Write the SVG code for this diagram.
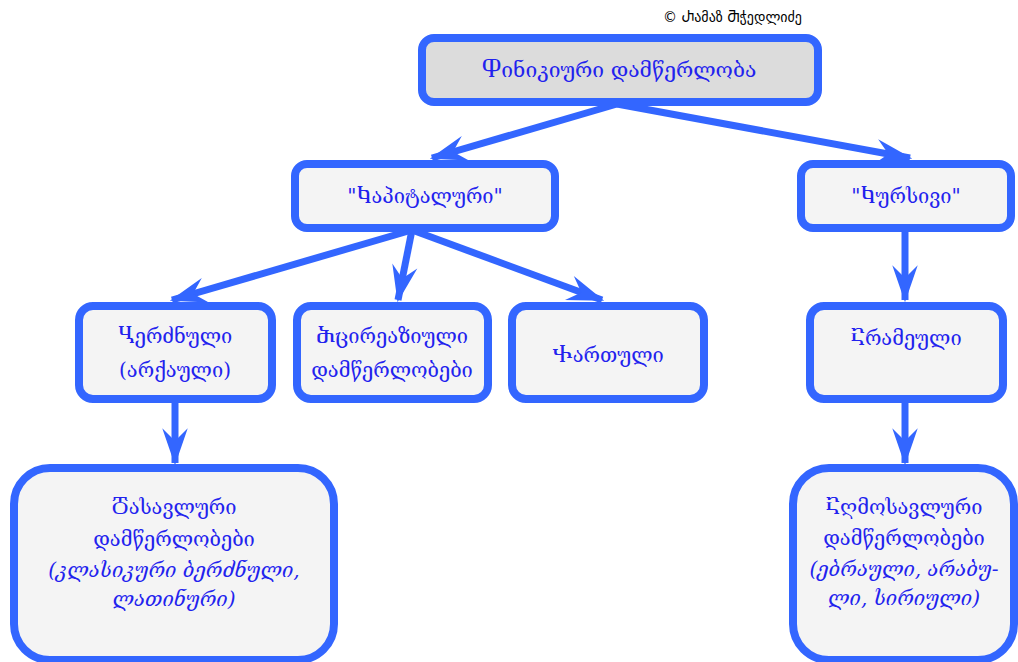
<svg xmlns="http://www.w3.org/2000/svg" width="1018" height="662" viewBox="0 0 1018 662">
<style>
.box{fill:#f4f4f4;stroke:#3366ff;stroke-width:8}
.top{fill:#dcdcdc}
.t{font-family:"DejaVu Serif","DejaVu Sans",serif;font-size:20px;fill:#2222ee;text-anchor:middle}
.big{font-size:21px}
.i{font-style:italic}
.c{font-family:"DejaVu Sans",sans-serif;font-size:14px;fill:#000}
.e{stroke:#3366ff;stroke-width:7;fill:none}
</style>
<defs>
<marker id="ah" markerUnits="userSpaceOnUse" markerWidth="44" markerHeight="30" viewBox="-34 -12 38 24" refX="0" refY="0" orient="auto">
<path d="M2,0 L-30,-11 L-19,0 L-30,11 Z" fill="#3366ff"/>
</marker>
</defs>
<text class="c" x="663" y="22">© Ⴐამაზ Ⴋჭედლიძე</text>
<g id="connectors">
<line class="e" x1="617" y1="104" x2="432" y2="158" marker-end="url(#ah)"/>
<line class="e" x1="617" y1="104" x2="910" y2="158" marker-end="url(#ah)"/>
<line class="e" x1="412" y1="230" x2="172" y2="300" marker-end="url(#ah)"/>
<line class="e" x1="412" y1="230" x2="398" y2="300" marker-end="url(#ah)"/>
<line class="e" x1="412" y1="230" x2="602" y2="300" marker-end="url(#ah)"/>
<line class="e" x1="905" y1="230" x2="905" y2="300" marker-end="url(#ah)"/>
<line class="e" x1="175" y1="401" x2="175" y2="463" marker-end="url(#ah)"/>
<line class="e" x1="905" y1="401" x2="905" y2="463" marker-end="url(#ah)"/>
</g>
<g id="n-phoenician">
<rect class="box top" x="422" y="38" width="396" height="64" rx="12"/>
<text class="t big" x="619" y="77">Ⴔინიკიური დამწერლობა</text>
</g>
<g id="n-capital">
<rect class="box" x="295" y="164" width="260" height="64" rx="12"/>
<text class="t" x="425" y="203">"Ⴉაპიტალური"</text>
</g>
<g id="n-cursive">
<rect class="box" x="801" y="164" width="210" height="64" rx="12"/>
<text class="t" x="906" y="203">"Ⴉურსივი"</text>
</g>
<g id="n-greek">
<rect class="box" x="79" y="306" width="193" height="93" rx="14"/>
<text class="t" x="175" y="343">Ⴁერძნული</text>
<text class="t" x="175" y="377">(არქაული)</text>
</g>
<g id="n-minor">
<rect class="box" x="297" y="306" width="191" height="93" rx="14"/>
<text class="t" x="392" y="343">Ⴋცირეაზიული</text>
<text class="t" x="392" y="377">დამწერლობები</text>
</g>
<g id="n-georgian">
<rect class="box" x="512" y="306" width="192" height="93" rx="14"/>
<text class="t" x="608" y="362">Ⴕართული</text>
</g>
<g id="n-aramaic">
<rect class="box" x="810" y="306" width="193" height="93" rx="14"/>
<text class="t" x="906" y="345">Ⴀრამეული</text>
</g>
<g id="n-western">
<rect class="box" x="14" y="468" width="320" height="192" rx="36"/>
<text class="t" x="174" y="514">Ⴃასავლური</text>
<text class="t" x="174" y="546">დამწერლობები</text>
<text class="t i" x="174" y="577">(კლასიკური ბერძნული,</text>
<text class="t i" x="174" y="606">ლათინური)</text>
</g>
<g id="n-eastern">
<rect class="box" x="793" y="468" width="221" height="192" rx="36"/>
<text class="t" x="904" y="514">Ⴀღმოსავლური</text>
<text class="t" x="904" y="545">დამწერლობები</text>
<text class="t i" x="904" y="576">(ებრაული, არაბუ-</text>
<text class="t i" x="904" y="605">ლი, სირიული)</text>
</g>
</svg>
